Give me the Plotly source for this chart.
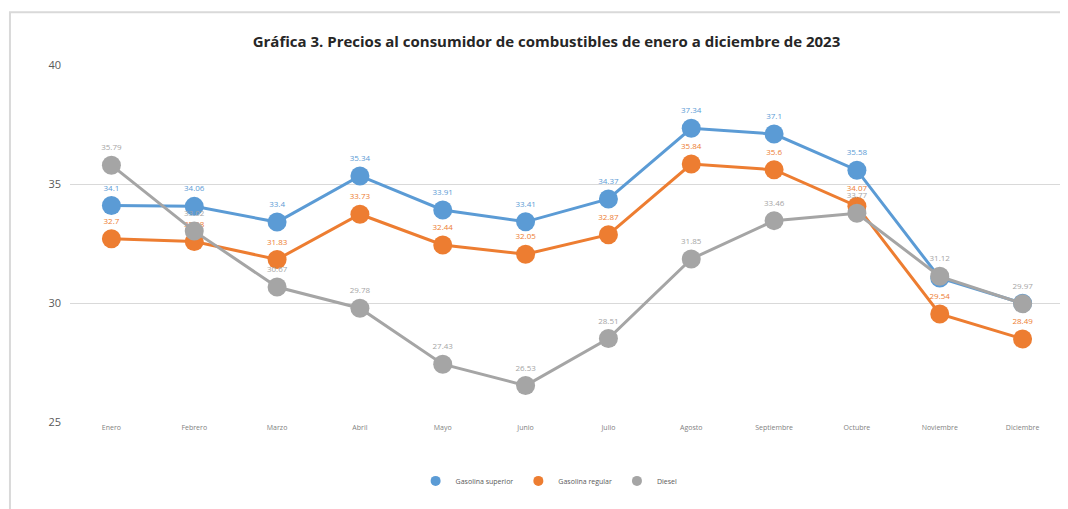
import plotly.graph_objects as go

# datos
meses = ["Enero", "Febrero", "Marzo", "Abril", "Mayo", "Junio", "Julio",
         "Agosto", "Septiembre", "Octubre", "Noviembre", "Diciembre"]

gasolina_superior = [34.1, 34.06, 33.4, 35.34, 33.91, 33.41, 34.37, 37.34, 37.1, 35.58, 31.05, 29.99]
gasolina_regular = [32.7, 32.58, 31.83, 33.73, 32.44, 32.05, 32.87, 35.84, 35.6, 34.07, 29.54, 28.49]
diesel = [35.79, 33.02, 30.67, 29.78, 27.43, 26.53, 28.51, 31.85, 33.46, 33.77, 31.12, 29.97]

# etiquetas que quedan tapadas en el original
etiq_superior = [str(v) for v in gasolina_superior[:10]] + ["", ""]

series = [
    ("Gasolina superior", gasolina_superior, etiq_superior, "#5B9BD5"),
    ("Gasolina regular", gasolina_regular, [str(v) for v in gasolina_regular], "#ED7D31"),
    ("Diesel", diesel, [str(v) for v in diesel], "#A5A5A5"),
]

fig = go.Figure()
for nombre, valores, etiquetas, color in series:
    fig.add_trace(go.Scatter(
        x=meses,
        y=valores,
        name=nombre,
        mode="lines+markers+text",
        text=etiquetas,
        textposition="top center",
        textfont=dict(size=8, color=color),
        line=dict(color=color, width=3),
        marker=dict(size=19, color=color),
        cliponaxis=False,
        showlegend=False,
    ))

# leyenda solo con circulos, como en el original
for nombre, valores, etiquetas, color in series:
    fig.add_trace(go.Scatter(
        x=[None], y=[None], name=nombre, mode="markers",
        marker=dict(size=10, color=color),
    ))

fig.update_layout(
    width=1060,
    height=501,
    margin=dict(l=62, r=4, t=57, b=87),
    paper_bgcolor="white",
    plot_bgcolor="white",
    font=dict(family="Open Sans", color="#595959"),
    title=dict(
        text="<b>Gráfica 3. Precios al consumidor de combustibles de enero a diciembre de 2023</b>",
        x=0.508, xanchor="center", y=0.932, yanchor="middle",
        font=dict(size=15, color="#262626", family="Open Sans"),
    ),
    legend=dict(
        orientation="h", x=0.482, xanchor="center", y=-0.165, yanchor="middle",
        font=dict(size=7, color="#595959"),
    ),
)

fig.update_xaxes(
    range=[-0.5, 11.5], showgrid=False, showline=False, ticks="",
    tickfont=dict(size=7, color="#7F7F7F"),
)
fig.update_yaxes(
    range=[25, 40], dtick=5, showgrid=True, gridcolor="#D9D9D9", gridwidth=1,
    zeroline=False, showline=False, ticks="",
    tickfont=dict(size=11, color="#595959"), ticklabelstandoff=8,
)

# marco del grafico
fig.add_shape(type="rect", xref="paper", yref="paper",
              x0=-0.0604, x1=1.03, y0=-0.3, y1=1.148,
              line=dict(color="#D9D9D9", width=2), layer="below")

fig.write_html("out.html")
